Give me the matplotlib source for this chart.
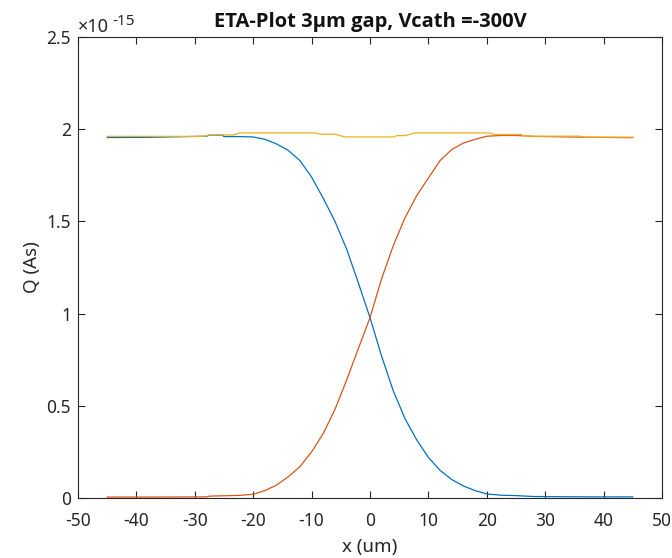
import matplotlib
matplotlib.use("Agg")
import matplotlib.pyplot as plt
from matplotlib.ticker import FuncFormatter, MultipleLocator

# data (charge in units of 1e-15 As)
x_pos = [-45, -38, -28, -27.5, -25.3, -25, -22.5, -20, -18, -16, -14, -12, -10, -8, -6, -4, -2, 0,
         2, 4, 6, 8, 10, 12, 14, 16, 18, 20, 22.5, 25, 28, 38, 45]
q_blue = [1.955, 1.956, 1.962, 1.968, 1.968, 1.960, 1.960, 1.958, 1.945, 1.92, 1.885, 1.83, 1.74,
          1.625, 1.50, 1.35, 1.167, 0.978, 0.768, 0.58, 0.43, 0.315, 0.22, 0.15, 0.10, 0.065, 0.04,
          0.022, 0.015, 0.013, 0.008, 0.006, 0.006]
q_red = [0.005, 0.005, 0.006, 0.010, 0.012, 0.012, 0.014, 0.02, 0.04, 0.07, 0.115, 0.17, 0.25, 0.35,
         0.48, 0.64, 0.81, 0.978, 1.19, 1.37, 1.52, 1.64, 1.735, 1.83, 1.89, 1.925, 1.945, 1.962,
         1.966, 1.966, 1.961, 1.956, 1.954]
x_sum = [-45, -28.5, -27.5, -23.3, -22.3, -9.5, -8.5, -6, -5, -4.2, 4.0, 4.6, 6.0, 6.8, 7.6,
         20.5, 21.3, 25.8, 26.6, 36.0, 36.8, 45]
q_sum = [1.961, 1.961, 1.969, 1.969, 1.980, 1.980, 1.973, 1.973, 1.964, 1.958, 1.958, 1.965, 1.965,
         1.972, 1.980, 1.980, 1.971, 1.971, 1.962, 1.962, 1.957, 1.957]

SCALE = 1e-15
x_ticks = list(range(-50, 51, 10))

plt.rcParams['font.family'] = ['Noto Sans', 'DejaVu Sans']

fig = plt.figure(figsize=(6.72, 5.58), dpi=100)
ax = fig.add_axes([78/672, 1-498/558, (662-78)/672, (498-37)/558])

ax.plot(x_pos, [v*SCALE for v in q_blue], color='#0072BD', lw=0.9)
ax.plot(x_pos, [v*SCALE for v in q_red], color='#D95319', lw=0.9)
ax.plot(x_sum, [v*SCALE for v in q_sum], color='#EDB120', lw=0.9)

ax.set_xlim(-50, 50)
ax.set_ylim(0, 2.5e-15)
ax.set_xticks(x_ticks)
ax.yaxis.set_major_locator(MultipleLocator(0.5e-15))
ax.yaxis.set_major_formatter(FuncFormatter(lambda v, p: f"{v/SCALE:g}"))
ax.xaxis.set_major_formatter(FuncFormatter(lambda v, p: f"{v:g}"))

tc = '#262626'
for s in ax.spines.values():
    s.set_color('#262626')
    s.set_linewidth(0.8)
ax.tick_params(direction='in', length=5, width=0.8, colors=tc, labelsize=12.5,
               top=True, right=True, labelcolor=tc)
ax.tick_params(axis='x', pad=10)
ax.tick_params(axis='y', pad=5)

ax.set_xlabel('x (um)', fontsize=13.5, color=tc, labelpad=6)
ax.set_ylabel('Q (As)', fontsize=13.5, color=tc, labelpad=4)
ax.set_title('ETA-Plot 3μm gap, Vcath =-300V', fontsize=14.5, fontweight='bold',
             family=['Open Sans', 'DejaVu Sans'], color='#111111', pad=7)

fig.text(78/672, 1-32/558, '×10', fontsize=13, color=tc, va='baseline', ha='left')
fig.text(112/672, 1-25/558, '-15', fontsize=11, color=tc, va='baseline', ha='left')

fig.savefig('out.png', dpi=100)
